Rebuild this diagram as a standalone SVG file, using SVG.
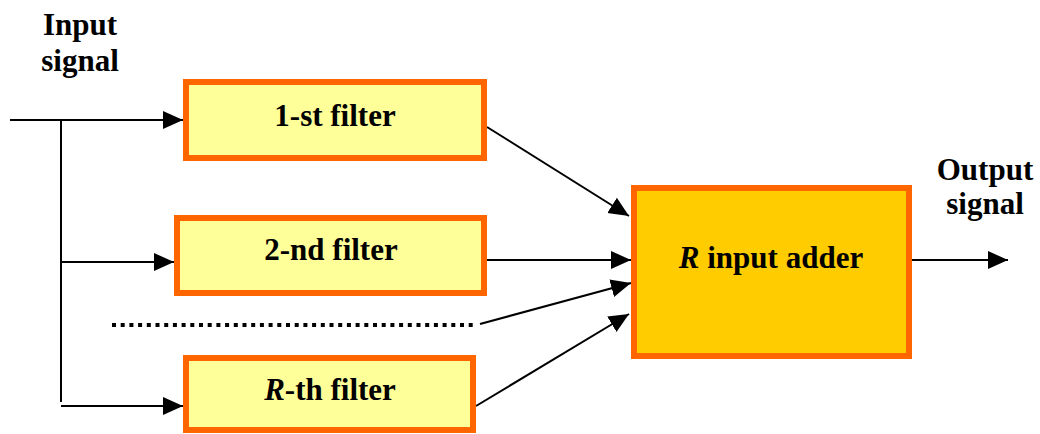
<svg xmlns="http://www.w3.org/2000/svg" width="1040" height="434" viewBox="0 0 1040 434">
  <style>
    .filter { fill: #FFFF99; stroke: #FF6600; stroke-width: 6; }
    .adder { fill: #FFCC00; stroke: #FF6600; stroke-width: 6; }
    .lbl { font-family: 'Liberation Serif', 'DejaVu Serif', serif; font-weight: bold; font-size: 31px; fill: #000; text-anchor: middle; }
    .wire { stroke: #000; stroke-width: 2; fill: none; }
    .arrow { stroke: #000; stroke-width: 2; fill: none; marker-end: url(#head); }
    .dots { stroke: #000; stroke-width: 4; stroke-dasharray: 4 4.7; fill: none; }
  </style>
  <defs>
    <marker id="head" markerUnits="userSpaceOnUse" markerWidth="22" markerHeight="20" refX="20" refY="9" orient="auto">
      <path d="M0,0 L20,9 L0,18 Z" fill="#000"/>
    </marker>
  </defs>

  <rect width="1040" height="434" fill="#fff"/>

  <!-- signal labels -->
  <g id="input-label">
    <text class="lbl" x="80" y="35">Input</text>
    <text class="lbl" x="80" y="71">signal</text>
  </g>
  <g id="output-label">
    <text class="lbl" x="985" y="180">Output</text>
    <text class="lbl" x="985" y="214">signal</text>
  </g>

  <!-- connectors -->
  <g id="connectors">
    <line class="arrow" x1="10" y1="120" x2="183" y2="120"/>
    <line class="wire" x1="61" y1="120" x2="61" y2="402"/>
    <line class="arrow" x1="61" y1="262" x2="174" y2="262"/>
    <line class="arrow" x1="61" y1="406" x2="183" y2="406"/>
    <line class="dots" x1="112" y1="325" x2="474" y2="325"/>
    <line class="arrow" x1="487" y1="127" x2="629" y2="216"/>
    <line class="arrow" x1="487" y1="260" x2="631" y2="260"/>
    <line class="arrow" x1="480" y1="324" x2="631" y2="283"/>
    <line class="arrow" x1="476" y1="406" x2="629" y2="314"/>
    <line class="arrow" x1="909" y1="260" x2="1008" y2="260"/>
  </g>

  <!-- filter bank -->
  <g id="filter-1">
    <rect class="filter" x="186" y="82" width="298" height="76"/>
    <text class="lbl" x="335" y="126">1-st filter</text>
  </g>
  <g id="filter-2">
    <rect class="filter" x="177" y="218" width="307" height="75"/>
    <text class="lbl" x="331" y="260">2-nd filter</text>
  </g>
  <g id="filter-r">
    <rect class="filter" x="186" y="358" width="287" height="72"/>
    <text class="lbl" x="330" y="400"><tspan font-style="italic">R</tspan>-th filter</text>
  </g>

  <!-- summing block -->
  <g id="adder">
    <rect class="adder" x="634" y="188" width="275" height="168"/>
    <text class="lbl" x="771" y="268"><tspan font-style="italic">R</tspan> input adder</text>
  </g>
</svg>
